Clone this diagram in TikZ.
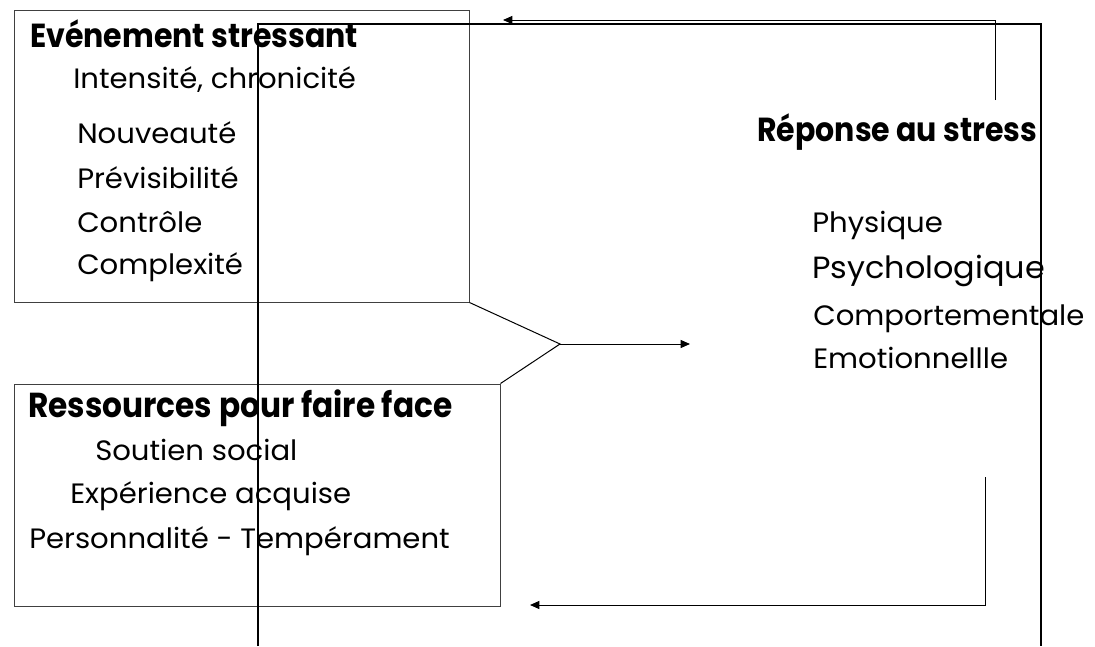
\documentclass[tikz,border=0pt]{standalone}
\usepackage{fontspec}
\setmainfont{Poppins}[FakeStretch=1.04]
\newfontfamily\grasfont{Poppins}[FakeStretch=0.9]
\usetikzlibrary{arrows.meta}

\begin{document}
\begin{tikzpicture}[x=0.75pt, y=-0.75pt]

\tikzset{
  boite/.style={draw=black!75, line width=0.75pt, inner sep=0pt},
  ligne/.style={anchor=base west, inner sep=0pt, font=\fontsize{21}{25}\selectfont},
  titre/.style={anchor=base west, inner sep=0pt, font=\grasfont\bfseries\fontsize{25}{30}\selectfont},
  cadre/.style={line width=1.5pt},
  fleche/.style={line width=0.75pt, -{Triangle[length=7pt,width=6pt]}}
}

\useasboundingbox (0,0) rectangle (1095,646);

% les deux boites
\node[boite, minimum width=455*0.75pt, minimum height=292*0.75pt] (evt) at (241.5,156) {};
\node[boite, minimum width=486*0.75pt, minimum height=222*0.75pt] (res) at (257,495) {};

% cadre
\draw[cadre] (258,646) -- (258,24) -- (1041,24) -- (1041,646);

% evenement
\node[titre] (evtT) at (30,47) {Evénement stressant};
\node[ligne] (evtA) at (73,88) {Intensité, chronicité};
\node[ligne] (evtB) at (77,143) {Nouveauté};
\node[ligne] (evtC) at (77,188) {Prévisibilité};
\node[ligne] (evtD) at (77,232) {Contrôle};
\node[ligne] (evtE) at (77,274) {Complexité};

% ressources
\node[titre, font=\grasfont\bfseries\fontsize{26}{30}\selectfont] (resT) at (28,417) {Ressources pour faire face};
\node[ligne] (resA) at (95,460) {Soutien social};
\node[ligne] (resB) at (70,503) {Expérience acquise};
\node[ligne] (resC) at (29,548) {Personnalité - Tempérament};

% reponse
\node[titre] (repT) at (757,141) {Réponse au stress};
\node[ligne] (repA) at (812,232) {Physique};
\node[ligne, font=\fontsize{23}{26}\selectfont] (repB) at (812,278) {Psychologique};
\node[ligne] (repC) at (813,325) {Comportementale};
\node[ligne] (repD) at (813,368) {Emotionnellle};

% jonction
\coordinate (join) at (560,344);
\coordinate (cible) at (690,344);
\draw[line width=0.75pt] (evt.south east) -- (join) -- (res.north east);
\draw[fleche] (join) -- (cible);

% retours
\coordinate (hautD) at (995,100);
\coordinate (hautG) at (503,20);
\draw[fleche] (hautD) |- (hautG);
\coordinate (basD) at (985,477);
\coordinate (basG) at (530,605);
\draw[fleche] (basD) |- (basG);

\end{tikzpicture}
\end{document}
